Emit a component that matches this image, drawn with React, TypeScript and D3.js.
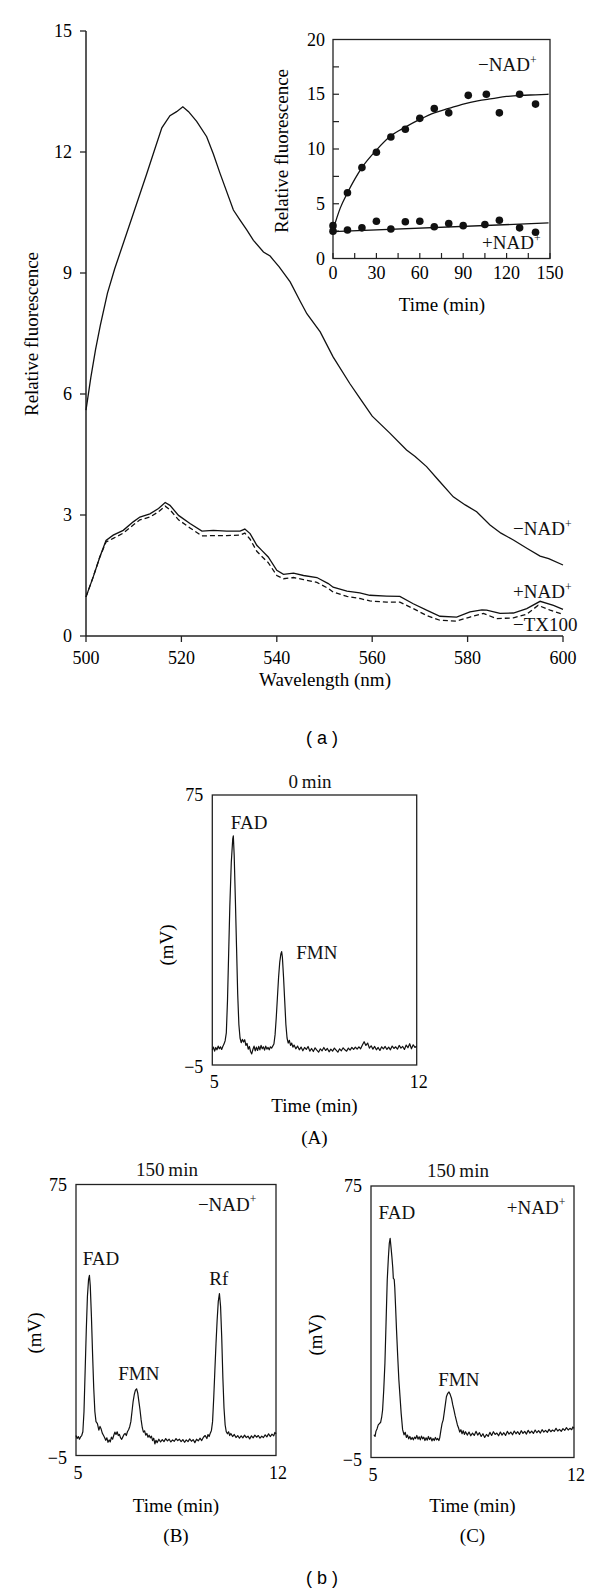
import React from 'react';
import * as d3 from 'd3';

// ---------- Panel (a): emission spectra ----------
const SPEC_X_TICKS = [500, 520, 540, 560, 580, 600];
const SPEC_Y_TICKS = [0, 3, 6, 9, 12, 15];

const SPEC_MINUS_NAD: [number, number][] = [
  [500, 5.6], [501, 6.4], [502, 7.1], [503, 7.7], [504.5, 8.5], [506, 9.1], [508, 9.8], [510, 10.5],
  [512.7, 11.45], [514.5, 12.1], [515.9, 12.6], [517.6, 12.9], [519, 13.0], [520.3, 13.12], [521.5, 13.0],
  [523.2, 12.76], [525.3, 12.38], [526.7, 11.95], [528.1, 11.47], [530.9, 10.56], [532.3, 10.31],
  [533.7, 10.07], [535.1, 9.81], [537.2, 9.52], [538.6, 9.42], [539.3, 9.32], [540.5, 9.15], [542.8, 8.78],
  [544.9, 8.3], [546.3, 7.99], [549.1, 7.54], [551.8, 6.92], [555.3, 6.26], [557.4, 5.9], [560, 5.45],
  [563.7, 5.03], [567.2, 4.61], [569, 4.45], [571.4, 4.2], [574, 3.85], [577, 3.45], [579.5, 3.25],
  [581.9, 3.08], [584.7, 2.75], [587, 2.55], [589.6, 2.38], [592.5, 2.17], [595.2, 1.98], [597, 1.92], [600, 1.76],
];

const SPEC_PLUS_NAD: [number, number][] = [
  [500, 0.97], [501.5, 1.46], [502.9, 1.96], [504.2, 2.37], [505.7, 2.5], [507.8, 2.62], [509.9, 2.83],
  [511.3, 2.95], [513.4, 3.03], [515.2, 3.16], [516.6, 3.31], [517.6, 3.24], [519.4, 2.99], [521.8, 2.79],
  [524.3, 2.6], [526.7, 2.62], [529.5, 2.6], [532.3, 2.6], [533.3, 2.65], [534.4, 2.54], [535.8, 2.25],
  [536.8, 2.13], [538.2, 1.96], [540, 1.63], [541.4, 1.53], [543.5, 1.56], [545.6, 1.5], [548.4, 1.45],
  [550.8, 1.3], [551.8, 1.21], [554.7, 1.11], [557.4, 1.07], [559.5, 1.01], [563, 0.99], [565.8, 0.98],
  [568.6, 0.8], [571.4, 0.64], [574.2, 0.49], [577.7, 0.47], [580.5, 0.6], [583, 0.65], [584, 0.64],
  [586.8, 0.56], [589.6, 0.57], [592.4, 0.68], [595.2, 0.86], [598, 0.76], [600, 0.66],
];

const SPEC_MINUS_TX100: [number, number][] = [
  [500, 0.97], [501.5, 1.46], [502.9, 1.96], [504.2, 2.33], [505.7, 2.42], [507.8, 2.55], [509.9, 2.75],
  [511.3, 2.88], [513.4, 2.95], [515.2, 3.08], [516.6, 3.22], [517.6, 3.13], [519.4, 2.88], [521.8, 2.68],
  [524.3, 2.48], [526.7, 2.49], [529.5, 2.49], [532.3, 2.5], [533.3, 2.55], [534.4, 2.4], [535.8, 2.1],
  [536.8, 1.98], [538.2, 1.82], [540, 1.5], [541.4, 1.42], [543.5, 1.45], [545.6, 1.4], [548.4, 1.33],
  [550.8, 1.18], [551.8, 1.09], [554.7, 0.98], [557.4, 0.93], [559.5, 0.87], [563, 0.84], [565.8, 0.84],
  [568.6, 0.68], [571.4, 0.51], [574.2, 0.39], [577.7, 0.37], [580.5, 0.47], [583.3, 0.56], [586.1, 0.43],
  [589.6, 0.45], [592.4, 0.54], [594.8, 0.76], [597.3, 0.64], [600, 0.54],
];

// ---------- Inset: time course ----------
const INSET_X_LABELS = [0, 30, 60, 90, 120, 150];
const INSET_X_MINOR = [0, 15, 30, 45, 60, 75, 90, 105, 120, 135, 150];
const INSET_Y_LABELS = [0, 5, 10, 15, 20];
const INSET_Y_MINOR = [2.5, 5, 7.5, 10, 12.5, 15, 17.5];

const INSET_MINUS_T = [0, 10, 20, 30, 40, 50, 60, 70, 80, 93.5, 106, 115, 129, 140];
const INSET_MINUS_V = [3.0, 6.0, 8.3, 9.7, 11.1, 11.8, 12.8, 13.7, 13.3, 14.9, 15.0, 13.3, 15.0, 14.1];
const INSET_PLUS_T = [0, 10, 20, 30, 40, 50, 60, 70, 80, 90, 105, 115, 129, 140];
const INSET_PLUS_V = [2.5, 2.6, 2.8, 3.4, 2.7, 3.35, 3.4, 2.9, 3.2, 3.0, 3.1, 3.5, 2.8, 2.4];

const INSET_MINUS_FIT: [number, number][] = [
  [0, 2.6], [5, 4.6], [10, 6.0], [20, 8.3], [30, 9.9], [40, 11.2], [50, 12.0], [60, 12.7], [70, 13.3],
  [80, 13.7], [90, 14.1], [100, 14.4], [110, 14.6], [120, 14.8], [130, 14.9], [140, 14.95], [149, 15.0],
];
const INSET_PLUS_FIT: [number, number][] = [[0, 2.45], [149, 3.25]];

// ---------- Panel (b): HPLC chromatograms ----------
const CHROM_X_DOMAIN = [5, 12];
const CHROM_Y_DOMAIN = [-5, 75];

const TRACE_A: [number, number][] = [
  [5.00, -0.6], [5.04, 0.3], [5.08, -0.9], [5.12, 0.2], [5.16, -0.5], [5.20, 0.6], [5.24, -0.2], [5.28, 0.4],
  [5.32, -0.4], [5.36, 0.5], [5.40, 1.2], [5.44, 2.2], [5.48, 4.5], [5.52, 14], [5.56, 28], [5.60, 42],
  [5.65, 55], [5.70, 62], [5.72, 62.9], [5.75, 57], [5.79, 44], [5.83, 30], [5.87, 16], [5.91, 7], [5.95, 3],
  [5.99, 1.6], [6.03, 2.6], [6.07, 1.8], [6.11, 2.5], [6.15, 0.8], [6.19, 1.4], [6.23, -0.3], [6.27, 0.5],
  [6.31, -1.0], [6.35, -1.7], [6.39, -0.4], [6.43, 0.6], [6.47, -0.8], [6.51, 0.3], [6.55, -0.7], [6.59, 0.5],
  [6.63, -0.5], [6.67, 0.8], [6.71, -0.2], [6.75, 0.4], [6.79, -0.6], [6.83, 0.6], [6.87, -0.3], [6.91, 0.2],
  [6.95, -0.5], [6.99, 0.4], [7.03, 0.0], [7.07, 0.6], [7.11, 1.2], [7.15, 4], [7.19, 9], [7.23, 15], [7.27, 21],
  [7.31, 25.5], [7.35, 28], [7.375, 28.6], [7.40, 27], [7.44, 21], [7.48, 14], [7.52, 7], [7.56, 3], [7.60, 1.5],
  [7.64, 2.3], [7.68, 0.8], [7.72, 1.5], [7.76, 0.3], [7.80, 0.9], [7.86, -0.2], [7.92, 0.6], [7.98, -0.5],
  [8.04, 0.3], [8.10, -0.8], [8.16, 0.2], [8.22, -0.4], [8.28, 0.5], [8.34, -0.9], [8.40, -0.1], [8.46, -1.0],
  [8.52, 0.1], [8.58, -0.6], [8.64, -1.2], [8.70, -0.2], [8.76, -0.8], [8.82, 0.2], [8.88, -0.7], [8.94, -0.1],
  [9.00, -1.1], [9.06, -0.3], [9.12, -0.9], [9.18, 0.0], [9.24, -0.6], [9.30, -1.2], [9.36, -0.2], [9.42, -0.8],
  [9.48, 0.1], [9.54, -0.5], [9.60, -0.9], [9.66, 0.0], [9.72, -0.6], [9.78, 0.2], [9.84, -0.4], [9.90, 0.3],
  [9.96, -0.3], [10.02, 0.4], [10.08, -0.2], [10.14, 0.9], [10.20, 1.9], [10.26, 0.8], [10.32, 1.5], [10.38, 0.0],
  [10.44, 0.7], [10.50, -0.3], [10.56, 0.5], [10.62, -0.5], [10.68, 0.2], [10.74, -0.7], [10.80, 0.4],
  [10.86, -0.2], [10.92, 0.5], [10.98, -0.4], [11.04, 0.3], [11.10, -0.5], [11.16, 0.6], [11.22, -0.1],
  [11.28, 0.4], [11.34, -0.3], [11.40, 0.8], [11.46, 0.0], [11.52, 0.5], [11.58, -0.4], [11.64, 0.9],
  [11.70, 0.1], [11.76, 1.3], [11.82, -0.2], [11.88, 1.0], [11.94, 0.2], [12.00, 0.6],
];

const TRACE_B: [number, number][] = [
  [5.00, 0.9], [5.04, 0.0], [5.08, 0.6], [5.12, -0.2], [5.16, 0.5], [5.20, 0.9], [5.24, 2.0], [5.28, 8],
  [5.32, 20], [5.36, 32], [5.40, 42], [5.44, 47], [5.47, 48.2], [5.50, 45], [5.54, 36], [5.58, 25], [5.62, 15],
  [5.66, 8], [5.70, 5], [5.75, 4.4], [5.80, 2.5], [5.84, 3.6], [5.88, 2.8], [5.92, 1.6], [5.96, 1.0], [6.00, 0.3],
  [6.04, -0.5], [6.08, 0.2], [6.12, -1.1], [6.16, -0.4], [6.20, -1.0], [6.24, 0.4], [6.28, -0.2], [6.32, 0.9],
  [6.36, 1.9], [6.40, 1.2], [6.44, 2.0], [6.48, 0.9], [6.52, 1.2], [6.56, 0.2], [6.60, -0.2], [6.64, 0.5],
  [6.68, 1.2], [6.72, 1.5], [6.76, 0.9], [6.80, 2.0], [6.84, 2.6], [6.88, 3.5], [6.92, 5], [6.96, 8], [7.00, 11],
  [7.04, 13], [7.08, 14.3], [7.12, 14.7], [7.16, 13.5], [7.20, 11], [7.24, 8.5], [7.28, 5.5], [7.32, 3.2],
  [7.36, 1.9], [7.40, 2.3], [7.44, 1.0], [7.48, 1.5], [7.52, 0.4], [7.56, 1.0], [7.60, 0.2], [7.64, 0.7],
  [7.68, -0.6], [7.72, 0.1], [7.76, -1.6], [7.80, -0.5], [7.84, -1.2], [7.90, -0.2], [7.96, -1.0], [8.02, -0.3],
  [8.08, -0.9], [8.14, 0.0], [8.20, -0.7], [8.26, -0.2], [8.32, -1.0], [8.38, -0.4], [8.44, -0.8], [8.50, 0.0],
  [8.56, -0.6], [8.62, -0.2], [8.68, -0.9], [8.74, -0.3], [8.80, -1.1], [8.86, -0.4], [8.92, -0.9], [8.98, -0.1],
  [9.04, -0.8], [9.10, -0.3], [9.16, -1.2], [9.22, -0.2], [9.28, -0.7], [9.34, 0.1], [9.40, -0.6], [9.46, 0.4],
  [9.52, 0.9], [9.58, 0.0], [9.62, 1.2], [9.66, 0.6], [9.70, 1.6], [9.74, 2.4], [9.78, 5], [9.82, 12], [9.86, 20],
  [9.90, 28], [9.94, 35], [9.98, 40.5], [10.02, 42.8], [10.06, 39], [10.10, 30], [10.14, 18], [10.18, 9],
  [10.22, 4], [10.26, 2.0], [10.30, 1.4], [10.34, 2.0], [10.38, 0.9], [10.42, 1.5], [10.48, 0.6], [10.54, 1.2],
  [10.60, 0.3], [10.66, 0.9], [10.72, 0.1], [10.78, 0.8], [10.84, 0.2], [10.90, 1.0], [10.96, 0.3], [11.02, 0.7],
  [11.08, -0.1], [11.14, 0.8], [11.20, 0.2], [11.26, 1.0], [11.32, 0.4], [11.38, 0.9], [11.44, 0.1], [11.50, 0.7],
  [11.56, 0.3], [11.62, 1.1], [11.68, 0.5], [11.74, 1.4], [11.80, 0.6], [11.86, 1.3], [11.92, 0.8], [11.96, 1.8],
  [12.00, 1.4],
];

const TRACE_C: [number, number][] = [
  [5.10, 1.7], [5.14, 1.2], [5.17, 2.7], [5.21, 3.5], [5.25, 4.6], [5.29, 5.0], [5.33, 5.3], [5.37, 7],
  [5.40, 9.0], [5.44, 15], [5.48, 22.8], [5.52, 35], [5.56, 47.3], [5.60, 54], [5.63, 58], [5.66, 59.6],
  [5.69, 57], [5.72, 54.2], [5.75, 51], [5.77, 47.8], [5.80, 47.5], [5.82, 45], [5.85, 39], [5.88, 32.6],
  [5.92, 25], [5.96, 18], [6.00, 13], [6.04, 8], [6.09, 3.2], [6.14, 1.7], [6.18, 2.4], [6.22, 0.9], [6.26, 1.6],
  [6.30, 0.5], [6.34, 1.2], [6.38, 0.3], [6.42, 0.9], [6.46, 0.2], [6.50, 1.0], [6.54, 0.6], [6.58, 1.5],
  [6.62, 0.4], [6.66, 1.1], [6.70, 0.2], [6.74, 1.3], [6.78, 0.5], [6.82, 1.0], [6.86, 0.0], [6.90, 0.8],
  [6.94, 0.1], [6.98, 1.2], [7.02, 0.3], [7.06, 0.9], [7.10, -0.1], [7.14, 0.6], [7.18, 0.0], [7.22, 0.9],
  [7.26, 0.2], [7.30, 0.6], [7.34, 0.0], [7.37, 0.8], [7.41, 3], [7.45, 5], [7.49, 6.1], [7.53, 8.5], [7.57, 11],
  [7.60, 12.9], [7.64, 13.8], [7.69, 14.3], [7.73, 13.6], [7.78, 12.3], [7.82, 10.5], [7.86, 9], [7.90, 7.4],
  [7.94, 6], [7.98, 4.6], [8.02, 3.7], [8.06, 2.5], [8.10, 3.2], [8.14, 2.0], [8.18, 2.9], [8.22, 1.8],
  [8.26, 2.6], [8.32, 1.6], [8.38, 2.5], [8.44, 1.4], [8.50, 2.2], [8.56, 1.5], [8.62, 2.7], [8.68, 1.6],
  [8.74, 2.3], [8.80, 1.2], [8.86, 2.0], [8.92, 0.9], [8.98, 1.8], [9.04, 1.2], [9.10, 2.4], [9.16, 1.5],
  [9.22, 2.6], [9.28, 1.8], [9.34, 2.2], [9.40, 1.4], [9.46, 2.5], [9.52, 1.6], [9.58, 2.3], [9.64, 1.5],
  [9.70, 2.7], [9.76, 1.9], [9.82, 2.5], [9.88, 1.7], [9.94, 2.8], [10.00, 2.0], [10.06, 2.6], [10.12, 1.8],
  [10.18, 2.9], [10.24, 2.1], [10.30, 2.7], [10.36, 1.9], [10.42, 3.0], [10.48, 2.2], [10.54, 2.8], [10.60, 2.1],
  [10.66, 3.1], [10.72, 2.3], [10.78, 2.9], [10.84, 2.2], [10.90, 3.2], [10.96, 2.5], [11.02, 3.0], [11.08, 2.4],
  [11.14, 3.3], [11.20, 2.6], [11.26, 3.1], [11.32, 2.7], [11.38, 3.6], [11.44, 2.8], [11.50, 3.3], [11.56, 2.7],
  [11.62, 3.5], [11.68, 3.0], [11.74, 3.8], [11.80, 3.1], [11.86, 3.6], [11.92, 3.2], [11.96, 4.0], [12.00, 3.6],
];

const SERIF = '"Liberation Serif", "Times New Roman", serif';
const SANS = '"Liberation Sans", Arial, sans-serif';

type Lbl = { text: string; sup?: string; t: number; v: number; anchor?: string };

function SupText({ x, y, text, sup, fs = 19, anchor = 'middle' }: any) {
  return (
    <text x={x} y={y + fs * 0.34} fontFamily={SERIF} fontSize={fs} textAnchor={anchor} fill="#111">
      {text}
      {sup ? <tspan fontSize={fs * 0.62} dy={-fs * 0.38}>{sup}</tspan> : null}
    </text>
  );
}

function Chromatogram({ box, data, title, titleX, titleY, labels, ylabX, ylabY, timeY, panelY, panel }: any) {
  const x = d3.scaleLinear().domain(CHROM_X_DOMAIN).range([box.x0, box.x1]);
  const y = d3.scaleLinear().domain(CHROM_Y_DOMAIN).range([box.y1, box.y0]);
  const line = d3.line<[number, number]>().x(d => x(d[0])).y(d => y(d[1]));
  const cx = (box.x0 + box.x1) / 2;
  return (
    <g>
      <rect x={box.x0} y={box.y0} width={box.x1 - box.x0} height={box.y1 - box.y0} fill="none" stroke="#222" strokeWidth={1.3} />
      <path d={line(data) || ''} fill="none" stroke="#111" strokeWidth={1.2} strokeLinejoin="round" />
      <SupText x={titleX} y={titleY} text={title} />
      {labels.map((l: Lbl, i: number) => (
        <SupText key={i} x={x(l.t)} y={y(l.v)} text={l.text} sup={l.sup} anchor={l.anchor || 'middle'} />
      ))}
      <text x={box.x0 - 9} y={y(CHROM_Y_DOMAIN[1]) + 6} fontFamily={SERIF} fontSize={18} textAnchor="end">{CHROM_Y_DOMAIN[1]}</text>
      <text x={box.x0 - 9} y={y(CHROM_Y_DOMAIN[0]) + 8} fontFamily={SERIF} fontSize={18} textAnchor="end">{'\u2212' + Math.abs(CHROM_Y_DOMAIN[0])}</text>
      <text x={x(CHROM_X_DOMAIN[0]) + 2} y={box.y1 + 23} fontFamily={SERIF} fontSize={18} textAnchor="middle">{CHROM_X_DOMAIN[0]}</text>
      <text x={x(CHROM_X_DOMAIN[1]) + 2} y={box.y1 + 23} fontFamily={SERIF} fontSize={18} textAnchor="middle">{CHROM_X_DOMAIN[1]}</text>
      <text transform={`translate(${ylabX},${ylabY}) rotate(-90)`} fontFamily={SERIF} fontSize={19} textAnchor="middle" dominantBaseline="central">(mV)</text>
      <text x={cx} y={timeY + 6} fontFamily={SERIF} fontSize={19} textAnchor="middle">Time (min)</text>
      <text x={cx} y={panelY + 6} fontFamily={SERIF} fontSize={19} textAnchor="middle">{panel}</text>
    </g>
  );
}

export default function App() {
  // main spectrum
  const xM = d3.scaleLinear().domain([500, 600]).range([86, 563]);
  const yM = d3.scaleLinear().domain([0, 15]).range([636, 31]);
  const lineM = d3.line<[number, number]>().x(d => xM(d[0])).y(d => yM(d[1]));

  // inset
  const xI = d3.scaleLinear().domain([0, 150]).range([333, 550]);
  const yI = d3.scaleLinear().domain([0, 20]).range([258.5, 39.5]);
  const lineI = d3.line<[number, number]>().x(d => xI(d[0])).y(d => yI(d[1])).curve(d3.curveMonotoneX);

  return (
    <svg width={600} height={1594} viewBox="0 0 600 1594" style={{ position: 'absolute', left: 0, top: 0, background: '#fff' }}>
      <rect x={0} y={0} width={600} height={1594} fill="#fff" />
      {/* ---- Main spectra axes ---- */}
      <line x1={86} x2={86} y1={yM(15)} y2={yM(0)} stroke="#222" strokeWidth={1.5} />
      <line x1={86} x2={563} y1={yM(0)} y2={yM(0)} stroke="#222" strokeWidth={1.5} />
      {SPEC_Y_TICKS.map(v => (
        <g key={'yt' + v}>
          <line x1={80} x2={86} y1={yM(v)} y2={yM(v)} stroke="#222" strokeWidth={1.3} />
          <text x={72} y={yM(v) + 6} fontFamily={SERIF} fontSize={18} textAnchor="end">{v}</text>
        </g>
      ))}
      {SPEC_X_TICKS.map(v => (
        <g key={'xt' + v}>
          <line x1={xM(v)} x2={xM(v)} y1={yM(0)} y2={yM(0) + 6} stroke="#222" strokeWidth={1.3} />
          <text x={xM(v)} y={664} fontFamily={SERIF} fontSize={18} textAnchor="middle">{v}</text>
        </g>
      ))}
      <text transform="translate(31,334) rotate(-90)" fontFamily={SERIF} fontSize={19} textAnchor="middle" dominantBaseline="central">Relative fluorescence</text>
      <text x={325} y={686} fontFamily={SERIF} fontSize={19} textAnchor="middle">Wavelength (nm)</text>

      <path d={lineM(SPEC_MINUS_NAD) || ''} fill="none" stroke="#111" strokeWidth={1.3} />
      <path d={lineM(SPEC_PLUS_NAD) || ''} fill="none" stroke="#111" strokeWidth={1.3} />
      <path d={lineM(SPEC_MINUS_TX100) || ''} fill="none" stroke="#111" strokeWidth={1.3} strokeDasharray="5,3" />

      <SupText x={513} y={529} text={'\u2212NAD'} sup="+" anchor="start" />
      <SupText x={513} y={592} text="+NAD" sup="+" anchor="start" />
      <SupText x={513} y={625} text={'\u2212TX100'} anchor="start" />

      {/* ---- Inset ---- */}
      <rect x={333} y={39.5} width={217} height={219} fill="none" stroke="#222" strokeWidth={1.3} />
      {INSET_Y_MINOR.map(v => (
        <line key={'iym' + v} x1={333} x2={339} y1={yI(v)} y2={yI(v)} stroke="#222" strokeWidth={1.2} />
      ))}
      {INSET_X_MINOR.map(v => (
        <line key={'ixm' + v} x1={xI(v)} x2={xI(v)} y1={258.5} y2={253} stroke="#222" strokeWidth={1.2} />
      ))}
      {INSET_Y_LABELS.map(v => (
        <text key={'iyl' + v} x={325} y={yI(v) + 6} fontFamily={SERIF} fontSize={18} textAnchor="end">{v}</text>
      ))}
      {INSET_X_LABELS.map(v => (
        <text key={'ixl' + v} x={xI(v)} y={279} fontFamily={SERIF} fontSize={18} textAnchor="middle">{v}</text>
      ))}
      <text transform="translate(281,151) rotate(-90)" fontFamily={SERIF} fontSize={19} textAnchor="middle" dominantBaseline="central">Relative fluorescence</text>
      <text x={442} y={311} fontFamily={SERIF} fontSize={19} textAnchor="middle">Time (min)</text>

      <path d={lineI(INSET_MINUS_FIT) || ''} fill="none" stroke="#111" strokeWidth={1.3} />
      <path d={lineI(INSET_PLUS_FIT) || ''} fill="none" stroke="#111" strokeWidth={1.3} />
      {INSET_MINUS_T.map((t, i) => (
        <circle key={'im' + i} cx={xI(t)} cy={yI(INSET_MINUS_V[i])} r={3.8} fill="#111" />
      ))}
      {INSET_PLUS_T.map((t, i) => (
        <circle key={'ip' + i} cx={xI(t)} cy={yI(INSET_PLUS_V[i])} r={3.8} fill="#111" />
      ))}
      <SupText x={478} y={65} text={'\u2212NAD'} sup="+" anchor="start" />
      <SupText x={482} y={243} text="+NAD" sup="+" anchor="start" />

      <text x={322} y={744} fontFamily={SANS} fontSize={18} textAnchor="middle">( a )</text>

      {/* ---- Panel (b) ---- */}
      <Chromatogram
        box={{ x0: 212.3, x1: 416.7, y0: 795, y1: 1065 }}
        data={TRACE_A}
        title={'0\u2009min'} titleX={310} titleY={782}
        labels={[
          { text: 'FAD', t: 6.26, v: 66.8 },
          { text: 'FMN', t: 8.58, v: 28.3 },
        ]}
        ylabX={166} ylabY={945} timeY={1106} panelY={1138} panel="(A)"
      />
      <Chromatogram
        box={{ x0: 76, x1: 276, y0: 1184.5, y1: 1455.5 }}
        data={TRACE_B}
        title={'150\u2009min'} titleX={167} titleY={1170}
        labels={[
          { text: 'FAD', t: 5.875, v: 53.2 },
          { text: 'FMN', t: 7.2, v: 19.3 },
          { text: 'Rf', t: 10.0, v: 47.3 },
          { text: '\u2212NAD', sup: '+', t: 10.29, v: 69.2 },
        ]}
        ylabX={34} ylabY={1333} timeY={1506} panelY={1536} panel="(B)"
      />
      <Chromatogram
        box={{ x0: 371, x1: 574, y0: 1186, y1: 1457.5 }}
        data={TRACE_C}
        title={'150\u2009min'} titleX={458} titleY={1170.5}
        labels={[
          { text: 'FAD', t: 5.89, v: 67.1 },
          { text: 'FMN', t: 8.03, v: 17.9 },
          { text: '+NAD', sup: '+', t: 10.69, v: 68.8 },
        ]}
        ylabX={315} ylabY={1335} timeY={1506} panelY={1536} panel="(C)"
      />

      <text x={322} y={1584} fontFamily={SANS} fontSize={18} textAnchor="middle">( b )</text>
    </svg>
  );
}
